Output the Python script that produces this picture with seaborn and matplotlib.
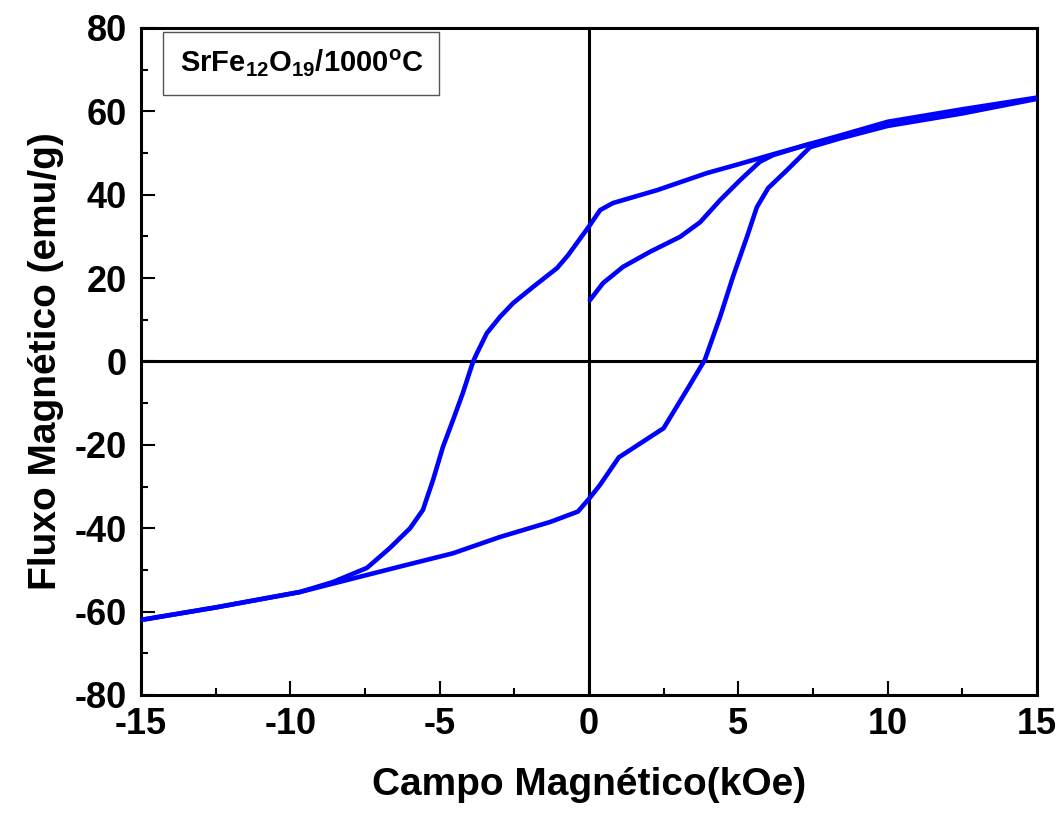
import matplotlib
matplotlib.use("Agg")
import matplotlib.pyplot as plt
import seaborn as sns
import pandas as pd
from matplotlib.ticker import MultipleLocator

# ── Data (H in kOe, M in emu/g) ───────────────────────────────────────────
virgin_h = [0.03, 0.47, 1.14, 2.04, 3.05, 3.72, 4.39, 5.06, 5.72, 6.16, 7.4]
virgin_m = [14.7, 18.8, 22.7, 26.3, 29.9, 33.4, 38.7, 43.5, 47.9, 49.5, 52.2]

down_h = [15, 12.5, 10, 8.4, 7.4, 6.16, 5, 3.95, 2.28, 0.8, 0.37, 0.03,
          -0.7, -1.07, -1.87, -2.54, -2.98, -3.42, -3.75, -3.88, -4.22,
          -4.55, -4.89, -5.22, -5.56, -5.99, -6.66, -7.43, -8.57, -9.68,
          -12.5, -15]
down_m = [63.3, 60.5, 57.5, 54.2, 52.2, 49.7, 47.3, 45.2, 41.1, 38, 36.3, 32.7,
          25.5, 22.4, 17.9, 14, 10.7, 6.8, 2, 0, -7.5,
          -14, -20.5, -28.4, -35.6, -40, -44.7, -49.5, -52.9, -55.3,
          -59, -62]

up_h = [-15, -12.5, -9.68, -7.43, -6.33, -4.55, -2.98, -1.3, -0.37, 0.03,
        0.37, 1, 2.5, 3.28, 3.88, 4.39, 4.82, 5.29, 5.62, 6, 6.63, 7.4,
        8.4, 10, 12.5, 15]
up_m = [-62, -59, -55.3, -51.2, -49.2, -46, -42.1, -38.5, -36, -32.7,
        -29.6, -23, -16, -6.8, 0.4, 10.7, 20.3, 29.9, 37, 41.6, 45.9, 51.4,
        53.5, 56.5, 59.5, 63]

sample_label = r"SrFe$_{\mathregular{12}}$O$_{\mathregular{19}}$/1000$^{\mathregular{o}}$C"

# ── Style ─────────────────────────────────────────────────────────────────
sns.set_style("ticks")
plt.rcParams["font.family"] = ["Liberation Sans", "DejaVu Sans"]
plt.rcParams["font.weight"] = "bold"
plt.rcParams["mathtext.fontset"] = "custom"
plt.rcParams["mathtext.rm"] = "Liberation Sans:bold"
plt.rcParams["mathtext.default"] = "rm"
plt.rcParams["axes.unicode_minus"] = False
for key in ["text.color", "axes.labelcolor", "xtick.color", "ytick.color",
            "axes.edgecolor"]:
    plt.rcParams[key] = "black"

fig = plt.figure(figsize=(10.64, 8.16), dpi=100)
ax = fig.add_axes([0.1325, 0.1483, 0.8421, 0.8174])

# zero lines
ax.axhline(0, color="black", lw=2.2, zorder=1)
ax.axvline(0, color="black", lw=2.2, zorder=1)

for h, m in [(virgin_h, virgin_m), (down_h, down_m), (up_h, up_m)]:
    df = pd.DataFrame({"H": h, "M": m})
    sns.lineplot(data=df, x="H", y="M", sort=False, estimator=None,
                 color="#0000FF", lw=3.3, ax=ax, zorder=3)

ax.set_xlim(-15, 15)
ax.set_ylim(-80, 80)
ax.xaxis.set_major_locator(MultipleLocator(5))
ax.xaxis.set_minor_locator(MultipleLocator(2.5))
ax.yaxis.set_major_locator(MultipleLocator(20))
ax.yaxis.set_minor_locator(MultipleLocator(10))
ax.tick_params(which="major", direction="in", length=10, width=1.5,
               labelsize=26)
ax.tick_params(axis="x", pad=9)
ax.tick_params(axis="y", pad=10)
ax.tick_params(which="minor", direction="in", length=5, width=1.5)
for lab in ax.get_xticklabels() + ax.get_yticklabels():
    lab.set_fontweight("bold")
for s in ax.spines.values():
    s.set_linewidth(2.2)

ax.set_xlabel("Campo Magnético(kOe)", fontsize=28, fontweight="bold",
              labelpad=18)
ax.set_ylabel("Fluxo Magnético (emu/g)", fontsize=28, fontweight="bold",
              labelpad=8)

ax.text(0.043, 0.97, sample_label, transform=ax.transAxes, fontsize=21,
        fontweight="bold", va="top", ha="left",
        bbox=dict(boxstyle="square,pad=0.55", fc="white", ec="#555555", lw=1))

fig.savefig("out.png", dpi=100)
